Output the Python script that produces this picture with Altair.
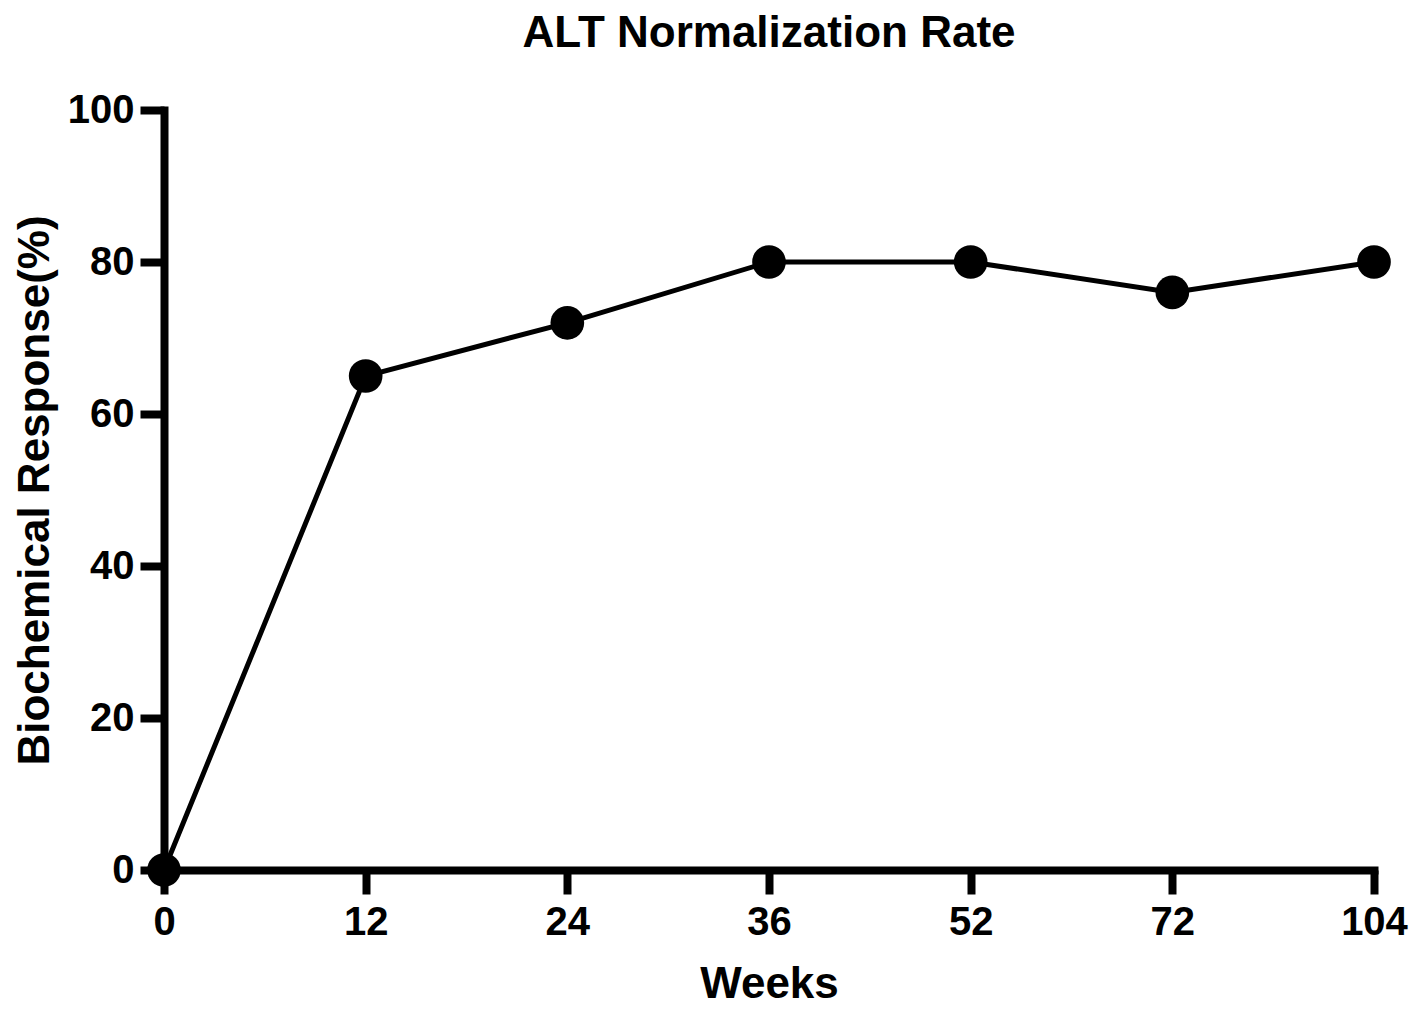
import altair as alt
import pandas as pd

weeks = ["0", "12", "24", "36", "52", "72", "104"]
response = [0, 65, 72, 80, 80, 76, 80]

df = pd.DataFrame({"Weeks": weeks, "Response": response})

FONT = "Liberation Sans"

x = alt.X("Weeks:O", sort=None, title="Weeks",
          scale=alt.Scale(type="point", padding=0),
          axis=alt.Axis(labelAngle=0, titlePadding=20, labelPadding=8))
y = alt.Y("Response:Q", title="Biochemical Response(%)",
          scale=alt.Scale(domain=[0, 100], nice=False),
          axis=alt.Axis(values=[0, 20, 40, 60, 80, 100], titlePadding=10, labelPadding=6))

line = alt.Chart(df).mark_line(color="black", strokeWidth=5).encode(x=x, y=y)
pts = alt.Chart(df).mark_point(filled=True, color="black", opacity=1, size=1134, shape="circle").encode(x=x, y=y)

chart = alt.layer(line, pts).properties(
    width=1210, height=760,
    title=alt.TitleParams("ALT Normalization Rate", font=FONT, fontSize=44, fontWeight="bold",
                          color="black", anchor="middle", offset=34),
    autosize=alt.AutoSizeParams(type="none"),
    padding={"left": 156, "top": 102, "right": 36, "bottom": 141},
).configure_view(stroke=None).configure_axis(
    grid=False,
    domainColor="black", domainWidth=8, domainCap="square",
    tickColor="black", tickWidth=8, tickSize=24,
    labelFont=FONT, labelFontSize=40, labelFontWeight="bold", labelColor="black",
    titleFont=FONT, titleFontSize=44, titleFontWeight="bold", titleColor="black",
)

chart.save("out.html", embed_options={"renderer": "svg", "actions": False})
